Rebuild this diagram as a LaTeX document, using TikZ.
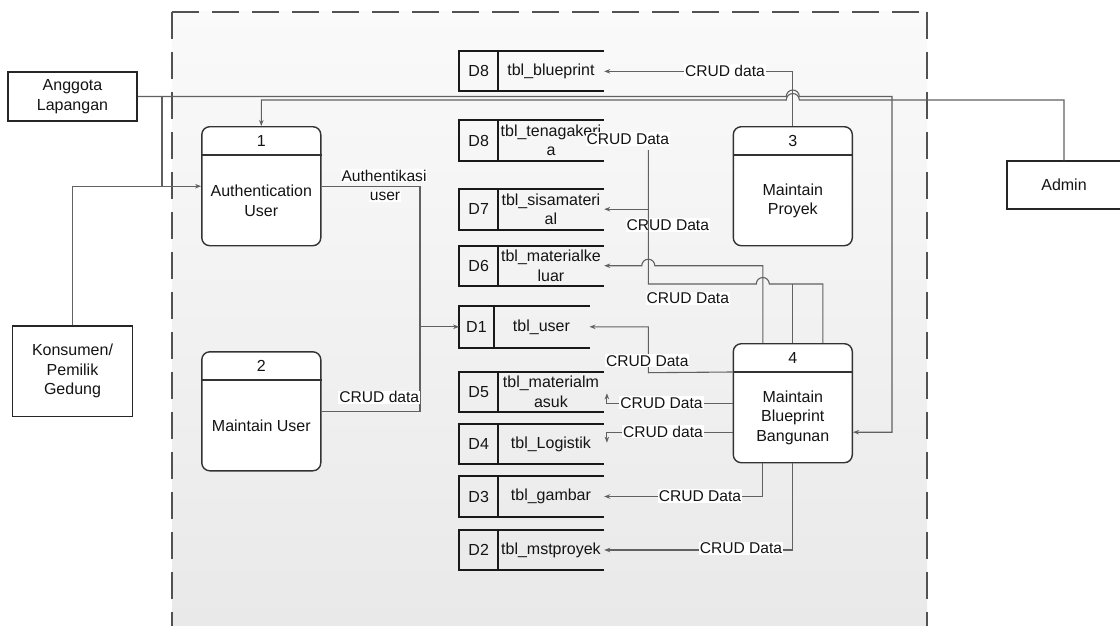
\documentclass[tikz,border=0pt]{standalone}
\usepackage{fontspec}
\setmainfont{Liberation Sans}
\usetikzlibrary{arrows.meta,calc}
\newcommand\dfdfont{\fontsize{16}{19.5}\selectfont}
\newcommand\dfdlblfont{\fontsize{15.6}{19.5}\selectfont}
\newcommand\mkstore[8]{%
  \node[storebox,minimum width=#4pt,minimum height=#5pt] (#1) at (#2,#3) {};
  \draw[sl] (#1.north east) -- (#1.north west) -- (#1.south west) -- (#1.south east);
  \draw[sl] ([xshift=#6pt]#1.north west) -- ([xshift=#6pt]#1.south west);
  \node (#1id) at ($(#1.west)+(#6/2,0)$) {#7};
  \node[align=center] (#1tx) at ($(#1.west)+({#6+(#4-#6)/2},0)$) {#8};
}
\begin{document}
\begin{tikzpicture}[x=1pt,y=-1pt,
  every node/.style={font=\dfdfont,text=black!92},
  ent/.style={draw=black!85,line width=1.4pt,fill=white,inner sep=0pt,align=center},
  proc/.style={draw=black!80,line width=1.4pt,rounded corners=8pt,fill=white,minimum width=119pt,minimum height=119pt,inner sep=0pt},
  storebox/.style={draw=none,inner sep=0pt},
  sl/.style={draw=black!90,line width=2pt},
  lbl/.style={fill=white,inner sep=1pt,align=center,font=\dfdlblfont},
  conn/.style={draw=black!62,line width=1.1pt},
  arr/.style={conn,-{Stealth[length=6pt,width=4.5pt]}}
]
\useasboundingbox (0,0) rectangle (1120,626);
% system boundary
\shade[top color=white!98!black,bottom color=white!91!black] (172,12) rectangle (927,660);
\draw[black!68,line width=2.7pt,dash pattern=on 27pt off 13pt] (172,12) -- (172,660);
\draw[black!68,line width=2.7pt,dash pattern=on 27pt off 13pt] (172,12) -- (927,12);
\draw[black!68,line width=2.7pt,dash pattern=on 27pt off 13pt] (927,12) -- (927,660);

% external entities
\node[ent,minimum width=129.3pt,minimum height=49pt] (ag) at (72.5,96.5) {Anggota\\Lapangan};
\node[ent,minimum width=119.6pt,minimum height=90.7pt] (ks) at (72.5,371.3) {Konsumen/\\Pemilik\\Gedung};
\node[ent,minimum width=114pt,minimum height=48pt] (ad) at (1064,185) {Admin};

% processes
\foreach \nm/\px/\py/\num/\txt in {p1/261.3/186.2/1/{Authentication\\User},p2/261.3/411.3/2/{Maintain User},p3/792.8/186.2/3/{Maintain\\Proyek},p4/792.8/403.2/4/{Maintain\\Blueprint\\Bangunan}}{
  \node[proc] (\nm) at (\px,\py) {};
  \draw[black!80,line width=1.4pt] ([yshift=-29pt]\nm.north west) -- ([yshift=-29pt]\nm.north east);
  \node (\nm n) at ([yshift=-14.5pt]\nm.north) {\num};
  \node[align=center] (\nm t) at ($(\nm.center)+(0,14.5)$) {\txt};
}

% data stores
\mkstore{sbp}{531.75}{71.35}{144.5}{39.3}{38.8}{D8}{tbl\_blueprint}
\mkstore{stk}{531.75}{140.5}{144.5}{41}{38.8}{D8}{tbl\_tenagakerj\\a}
\mkstore{s7}{531.75}{209.2}{144.5}{40.3}{38.8}{D7}{tbl\_sisamateri\\al}
\mkstore{s6}{531.75}{265.7}{144.5}{40}{38.8}{D6}{tbl\_materialke\\luar}
\mkstore{s1}{524.3}{326.8}{130}{41.7}{34.7}{D1}{tbl\_user}
\mkstore{s5}{531.75}{391.7}{144.5}{40}{38.8}{D5}{tbl\_materialm\\asuk}
\mkstore{s4}{531.75}{444}{144.5}{40}{38.8}{D4}{tbl\_Logistik}
\mkstore{s3}{531.75}{496.5}{144.5}{41}{38.8}{D3}{tbl\_gambar}
\mkstore{s2}{531.75}{550}{144.5}{40}{38.8}{D2}{tbl\_mstproyek}

% label lying under a connector
\node[lbl] (le) at (667.8,225) {CRUD Data};

% coordinates
\coordinate (ja) at (162,96.5);
\coordinate (jb) at (162,186.2);
\coordinate (jc) at (420,326.8);
\coordinate (t2) at (648.3,150);
\coordinate (jd) at (648.3,209.2);
\coordinate (je) at (792.8,284);

% connectors
\draw[arr] (ag.east) -- (786.3,96.5) arc[start angle=180,end angle=0,radius=6.5pt] -- (892,96.5) |- ([yshift=-29pt]p4.east);
\draw[conn] (ja) -- (jb);
\draw[arr] (ks.north) |- (p1.west);
\draw[arr] (ad.north) |- (799.3,100) arc[start angle=0,end angle=180,radius=6.5pt] -| (p1.north);
\draw[arr] (p1.east) -- (420,186.2) |- (s1.west);
\draw[conn] (p2.east) -| (jc);
\draw[arr] (p3.north) |- (sbp.east);
\draw[arr] ([xshift=-30pt]p4.north) |- (654.8,265.7) arc[start angle=0,end angle=180,radius=6.5pt] -- (s6.east);
\draw[conn] ([xshift=30pt]p4.north) |- (769.3,284) arc[start angle=0,end angle=180,radius=6.5pt] -- (648.3,284) -- (t2);
\draw[arr] (jd) -- (s7.east);
\draw[conn] (p4.north) -- (je);
\draw[arr] ([yshift=-29pt]p4.north west) -- (648.3,372.7) |- (s1.east);
\draw[arr] (p4.west) -| ($(s5.east)+(2.7,1.6)$);
\draw[arr] ([yshift=-29pt]p4.west) -| ($(s4.east)+(2.7,-1.3)$);
\draw[arr] ([xshift=-30pt]p4.south) |- (s3.east);
\draw[arr] (p4.south) |- (s2.east);

% labels
\node[lbl] (la) at (384,175.5) {Authentikasi};
\node[lbl] (la2) at (385,196.5) {user};
\node[lbl] (lb) at (379.3,397.3) {CRUD data};
\node[lbl] (lc) at (725,71) {CRUD data};
\node[lbl] (ld) at (627.8,139) {CRUD Data};
\node[lbl] (lf) at (687.8,298.3) {CRUD Data};
\node[lbl] (lg) at (647.3,360.7) {CRUD Data};
\node[lbl] (lh) at (661.5,402.7) {CRUD Data};
\node[lbl] (li) at (663,431.7) {CRUD data};
\node[lbl] (lj) at (700,496) {CRUD Data};
\node[lbl] (lk) at (741,548.3) {CRUD Data};
\end{tikzpicture}
\end{document}
